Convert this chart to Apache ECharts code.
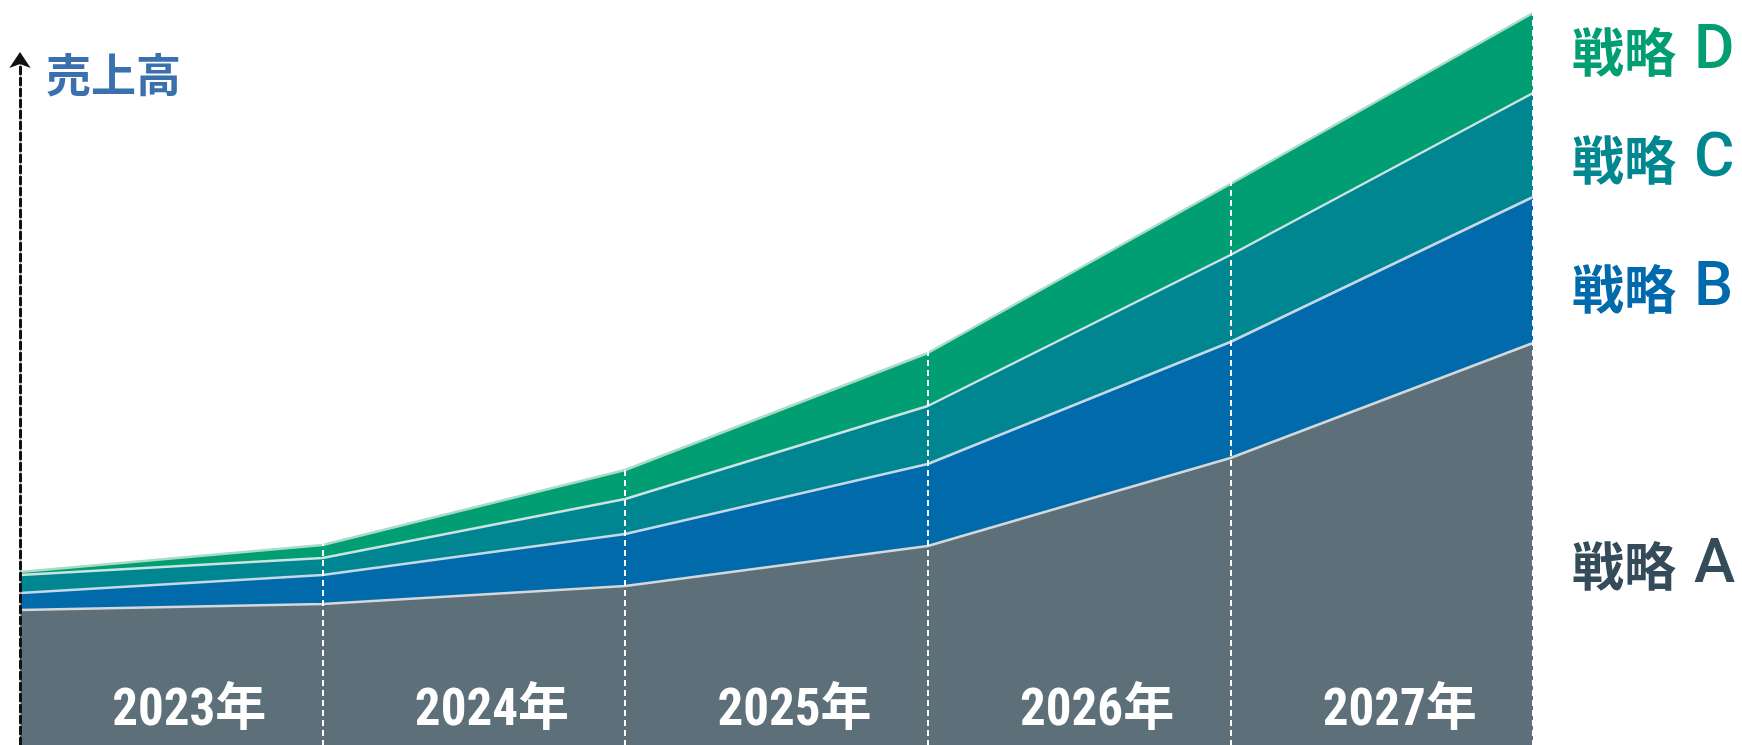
<!DOCTYPE html>
<html>
<head>
<meta charset="utf-8">
<title>売上高</title>
<script src="https://cdn.jsdelivr.net/npm/echarts@6.0.0/dist/echarts.min.js"></script>
<style>
  html, body { margin: 0; padding: 0; background: #fff; }
  #main { width: 1742px; height: 745px; }
</style>
</head>
<body>
<div id="main"></div>
<script>
// period edges (start of each year .. end of 2027)
var edges = ['2023/01', '2024/01', '2025/01', '2026/01', '2027/01', '2028/01'];
var years = ['2023年', '2024年', '2025年', '2026年', '2027年'];

// stacked values (arbitrary units)
var strategyA = [135, 141, 159, 199, 287, 402];
var strategyB = [17, 29, 52, 82, 116, 146];
var strategyC = [18, 17, 35, 58, 87, 104];
var strategyD = [3, 13, 29, 53, 71, 80];

var names = ['戦略 A', '戦略 B', '戦略 C', '戦略 D'];
var values = [strategyA, strategyB, strategyC, strategyD];
var fills = ['#5d6f79', '#006aaa', '#008690', '#009e72'];
var edgesColor = ['#d3d8db', '#c6d9e8', '#cce3e4', '#a9dcc8'];
var labelColors = ['#344b59', '#006aad', '#008790', '#009e72'];
var labelY = [566, 289, 160, 52];

var CJK = '"Noto Sans CJK JP", "Noto Sans", sans-serif';

var chart = echarts.init(document.getElementById('main'), null, { renderer: 'canvas' });

var series = names.map(function (name, i) {
  return {
    name: name,
    type: 'line',
    stack: 'total',
    xAxisIndex: 0,
    yAxisIndex: 0,
    symbol: 'none',
    silent: true,
    z: 5 - i,
    data: values[i],
    lineStyle: { color: edgesColor[i], width: 2.5 },
    areaStyle: { color: fills[i], opacity: 1 }
  };
});

var graphics = [{
  type: 'text',
  x: 46,
  y: 75,
  style: {
    text: '売上高',
    fill: '#3a70ae',
    font: 'bold 45px ' + CJK,
    verticalAlign: 'middle'
  }
}];

names.forEach(function (name, i) {
  var parts = name.split(' ');
  graphics.push({
    type: 'text',
    x: 1572,
    y: labelY[i],
    style: {
      text: '{k|' + parts[0] + '}{l|' + parts[1] + '}',
      fill: labelColors[i],
      verticalAlign: 'middle',
      rich: {
        k: { font: 'bold 52px ' + CJK, fill: labelColors[i] },
        l: { font: '500 62px Roboto, "Noto Sans", sans-serif', fill: labelColors[i], padding: [0, 0, 0, 18] }
      }
    }
  });
});

var option = {
  animation: false,
  backgroundColor: '#fff',
  grid: [
    { left: 20, right: 209, top: 0, bottom: 0 },
    { left: 20, right: 209, top: 52, bottom: 0 }
  ],
  xAxis: [{
    gridIndex: 0,
    type: 'category',
    position: 'top',
    boundaryGap: false,
    data: edges,
    z: 6,
    axisLine: { show: false },
    axisTick: { show: false },
    axisLabel: { show: false },
    splitLine: {
      show: true,
      interval: 0,
      lineStyle: { color: '#ffffff', width: 2, type: [6, 4] }
    }
  }, {
    gridIndex: 0,
    type: 'category',
    position: 'bottom',
    boundaryGap: true,
    data: years,
    z: 7,
    axisLine: { show: false },
    axisTick: { show: false },
    splitLine: { show: false },
    axisLabel: {
      inside: true,
      margin: 7,
      color: '#ffffff',
      fontSize: 51,
      fontWeight: 'bold',
      fontFamily: '"Liberation Sans Narrow", "Roboto Condensed", "DejaVu Sans Condensed", "Noto Sans CJK JP", sans-serif',
      padding: [0, 0, 0, 36]
    }
  }, {
    gridIndex: 1,
    type: 'value',
    show: false
  }],
  yAxis: [{
    gridIndex: 0,
    type: 'value',
    min: 0,
    max: 745,
    show: false
  }, {
    gridIndex: 1,
    type: 'value',
    min: 0,
    max: 1,
    z: 8,
    axisLine: {
      show: true,
      symbol: ['none', 'arrow'],
      symbolSize: [16, 16],
      lineStyle: { color: '#111111', width: 3, type: [7, 4] }
    },
    axisTick: { show: false },
    axisLabel: { show: false },
    splitLine: { show: false }
  }],
  graphic: graphics,
  series: series
};

chart.setOption(option);
</script>
</body>
</html>
